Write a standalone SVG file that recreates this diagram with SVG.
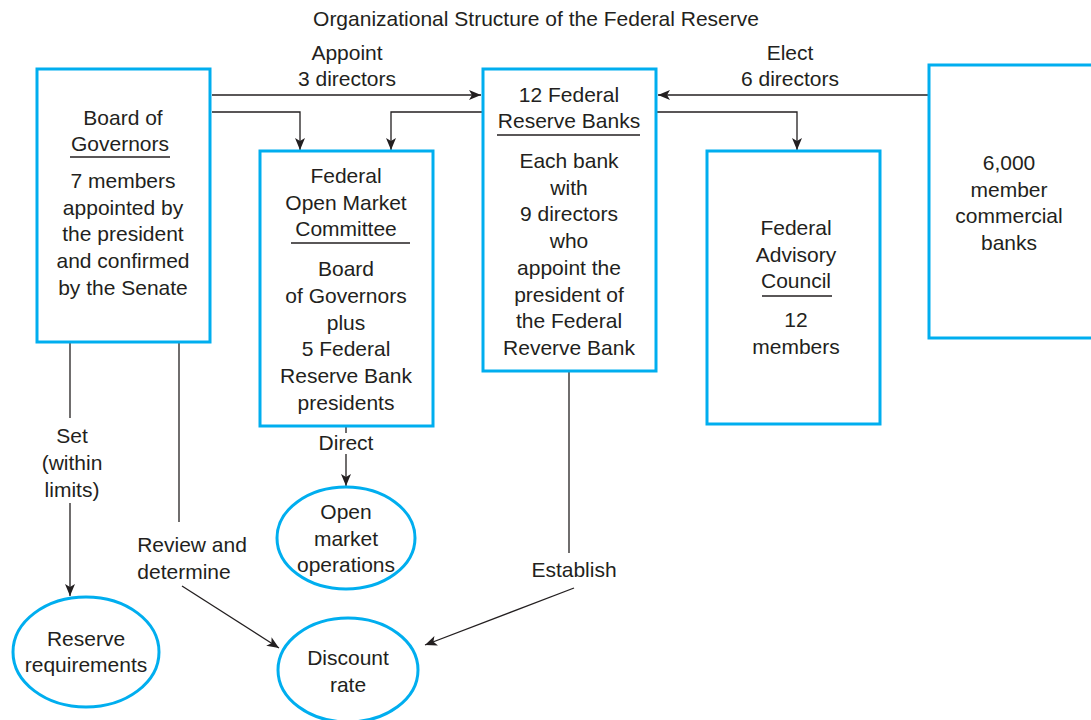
<svg xmlns="http://www.w3.org/2000/svg" width="1091" height="720" viewBox="0 0 1091 720">
<defs>
<marker id="ah" viewBox="0 0 12 10" refX="12" refY="5" markerWidth="12" markerHeight="10" markerUnits="userSpaceOnUse" orient="auto">
<path d="M0,0 L12,5 L0,10 L3,5 Z" fill="#231f20"/>
</marker>
<style>
text{font-family:"Liberation Sans",Arial,sans-serif;font-size:21px;fill:#231f20;text-anchor:middle}
.box{fill:none;stroke:#00aeef;stroke-width:3}
.ul{stroke:#231f20;stroke-width:1.5}
.c{fill:none;stroke:#231f20;stroke-width:1.3}
.a{fill:none;stroke:#231f20;stroke-width:1.3;marker-end:url(#ah)}
</style>
</defs>
<rect width="1091" height="720" fill="#fff"/>
<text x="536" y="26">Organizational Structure of the Federal Reserve</text>

<g id="connectors">
<path class="a" d="M212,95 H481"/>
<path class="a" d="M212,112 H300 V150"/>
<path class="a" d="M483,112 H391 V150"/>
<path class="a" d="M929,95 H658"/>
<path class="a" d="M656,112 H797 V150"/>
<path class="c" d="M346,426 V433"/>
<path class="a" d="M346,454 V486"/>
<path class="c" d="M70,342 V418"/>
<path class="a" d="M70,503 V596"/>
<path class="c" d="M179,342 V522"/>
<path class="a" d="M182,586 L279,648"/>
<path class="c" d="M569,371 V553"/>
<path class="a" d="M574,588 L425,645"/>
<text x="347" y="60">Appoint</text>
<text x="347" y="86">3 directors</text>
<text x="790" y="60">Elect</text>
<text x="790" y="86">6 directors</text>
<text x="346" y="450">Direct</text>
<text x="72" y="443">Set</text>
<text x="72" y="470">(within</text>
<text x="72" y="497">limits)</text>
<text x="192" y="552">Review and</text>
<text x="184" y="579">determine</text>
<text x="574" y="577">Establish</text>
</g>

<g id="board">
<rect class="box" x="37" y="69" width="173" height="273"/>
<text x="123" y="125">Board of</text>
<text x="120" y="151">Governors</text>
<line class="ul" x1="70" y1="157" x2="170" y2="157"/>
<text x="123" y="188">7 members</text>
<text x="123" y="215">appointed by</text>
<text x="123" y="241">the president</text>
<text x="123" y="268">and confirmed</text>
<text x="123" y="295">by the Senate</text>
</g>

<g id="fomc">
<rect class="box" x="260" y="151" width="173" height="275"/>
<text x="346" y="183">Federal</text>
<text x="346" y="210">Open Market</text>
<text x="346" y="236">Committee</text>
<line class="ul" x1="291" y1="243" x2="410" y2="243"/>
<text x="346" y="276">Board</text>
<text x="346" y="303">of Governors</text>
<text x="346" y="330">plus</text>
<text x="346" y="356">5 Federal</text>
<text x="346" y="383">Reserve Bank</text>
<text x="346" y="410">presidents</text>
</g>

<g id="frb">
<rect class="box" x="483" y="69" width="173" height="302"/>
<text x="569" y="102">12 Federal</text>
<text x="569" y="128">Reserve Banks</text>
<line class="ul" x1="497" y1="135" x2="640" y2="135"/>
<text x="569" y="168">Each bank</text>
<text x="569" y="195">with</text>
<text x="569" y="221">9 directors</text>
<text x="569" y="248">who</text>
<text x="569" y="275">appoint the</text>
<text x="569" y="302">president of</text>
<text x="569" y="328">the Federal</text>
<text x="569" y="355">Reverve Bank</text>
</g>

<g id="fac">
<rect class="box" x="707" y="151" width="173" height="273"/>
<text x="796" y="235">Federal</text>
<text x="796" y="262">Advisory</text>
<text x="796" y="288">Council</text>
<line class="ul" x1="762" y1="296" x2="832" y2="296"/>
<text x="796" y="327">12</text>
<text x="796" y="354">members</text>
</g>

<g id="member-banks">
<rect class="box" x="929" y="65" width="170" height="273"/>
<text x="1009" y="170">6,000</text>
<text x="1009" y="197">member</text>
<text x="1009" y="223">commercial</text>
<text x="1009" y="250">banks</text>
</g>

<g id="open-market">
<ellipse class="box" cx="346" cy="538" rx="69" ry="51"/>
<text x="346" y="519">Open</text>
<text x="346" y="546">market</text>
<text x="346" y="572">operations</text>
</g>

<g id="reserve-req">
<ellipse class="box" cx="86" cy="652" rx="73" ry="55"/>
<text x="86" y="646">Reserve</text>
<text x="86" y="672">requirements</text>
</g>

<g id="discount">
<ellipse class="box" cx="348" cy="670" rx="70" ry="52"/>
<text x="348" y="665">Discount</text>
<text x="348" y="692">rate</text>
</g>
</svg>
